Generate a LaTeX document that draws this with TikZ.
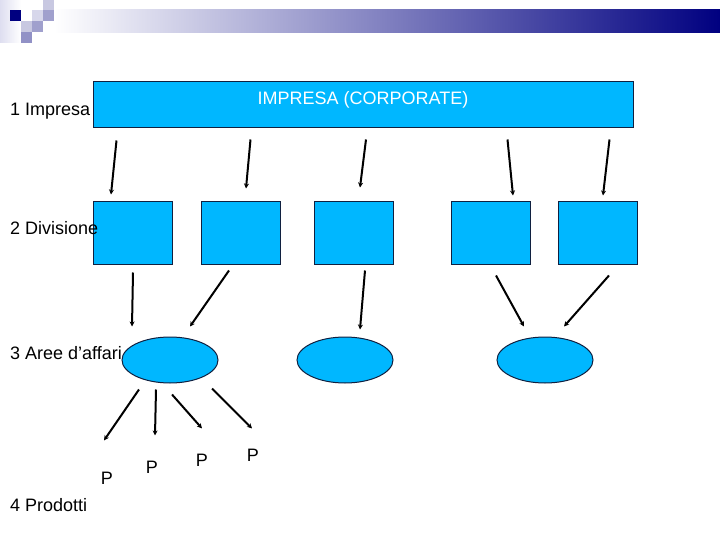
\documentclass[tikz,border=0pt]{standalone}
\usepackage{fontspec}
\setmainfont{Liberation Sans}
\usetikzlibrary{arrows.meta,shapes.geometric}
\definecolor{boxblue}{RGB}{0,183,255}
\definecolor{boxline}{RGB}{16,32,64}
\definecolor{slidenavy}{RGB}{0,0,128}
\definecolor{barmid}{RGB}{172,172,198}
\definecolor{stripe}{RGB}{222,222,240}
\definecolor{sqlight}{RGB}{200,200,225}
\definecolor{sqpale}{RGB}{215,215,235}
\definecolor{sqmid}{RGB}{160,160,205}
\definecolor{sqdeep}{RGB}{145,145,198}
\begin{document}
\begin{tikzpicture}[x=1pt, y=-1pt,
        txt/.style={font=\fontsize{18}{21}\selectfont, inner sep=0pt},
        level/.style={txt, anchor=base west},
        corporate/.style={draw=boxline, fill=boxblue, line width=1pt, minimum width=540pt, minimum height=46pt, inner sep=0pt},
        division/.style={draw=boxline, fill=boxblue, line width=1pt, minimum width=79pt, minimum height=62pt, inner sep=0pt},
        area/.style={ellipse, draw=boxline, fill=boxblue, line width=1pt, minimum width=96pt, minimum height=46pt, inner sep=0pt},
        prod/.style={txt, anchor=base},
        arrow/.style={-{Stealth[length=5pt,width=5pt]}, line width=2pt}
        ]
        \useasboundingbox (0,0) rectangle (720,540);
        % slide decoration
        \shade[left color=white, middle color=barmid, right color=slidenavy] (54,10) rectangle (720,33);
        \shade[left color=stripe, right color=white] (0,0) rectangle (21,43);
        \fill[slidenavy] (10,10) rectangle (21,21);
        \fill[sqlight] (43,0) rectangle (54,10);
        \fill[sqpale] (32,10) rectangle (43,21);
        \fill[sqmid] (43,10) rectangle (54,21);
        \fill[sqlight] (21,21) rectangle (32,32);
        \fill[sqmid] (32,21) rectangle (43,32);
        \fill[sqdeep] (21,32) rectangle (32,43);

        \node[corporate, label={[txt, text=white, anchor=base, yshift=-23pt]north:IMPRESA (CORPORATE)}] (corp) at (363,105) {};

        \node[division] (div1) at (132.5,233) {};
        \node[division] (div2) at (240.5,233) {};
        \node[division] (div3) at (354,233) {};
        \node[division] (div4) at (490.5,233) {};
        \node[division] (div5) at (597.5,233) {};

        \node[area] (area1) at (170,360) {};
        \node[area] (area2) at (345,360) {};
        \node[area] (area3) at (545,360) {};

        \node[prod] (p1) at (107,484) {P};
        \node[prod] (p2) at (152,473) {P};
        \node[prod] (p3) at (202,466) {P};
        \node[prod] (p4) at (253,461) {P};

        \node[level] (lev1) at (10,116) {1 Impresa};
        \node[level] (lev2) at (10,234.5) {2 Divisione};
        \node[level] (lev3) at (10,359) {3 Aree d’affari};
        \node[level] (lev4) at (10,511) {4 Prodotti};

        % impresa -> divisioni
        \draw[arrow] ([shift={(24,12)}]corp.south west) -- ([shift={(-21.5,-7)}]div1.north);
        \draw[arrow] ([shift={(158,11)}]corp.south west) -- ([shift={(5.5,-13)}]div2.north);
        \draw[arrow] ([shift={(3,11)}]corp.south) -- ([shift={(6,-14)}]div3.north);
        \draw[arrow] ([shift={(-126,11)}]corp.south east) -- ([shift={(22.5,-6)}]div4.north);
        \draw[arrow] ([shift={(-24,11)}]corp.south east) -- ([shift={(5.5,-6)}]div5.north);

        % divisioni -> aree
        \draw[arrow] ([shift={(0.5,8)}]div1.south) -- ([shift={(-38,-10)}]area1.north);
        \draw[arrow] ([shift={(-11.5,6)}]div2.south) -- ([shift={(20,-10)}]area1.north);
        \draw[arrow] ([shift={(11,6)}]div3.south) -- ([shift={(15,-7)}]area2.north);
        \draw[arrow] ([shift={(5.5,11)}]div4.south) -- ([shift={(-21,-10)}]area3.north);
        \draw[arrow] ([shift={(11.5,11)}]div5.south) -- ([shift={(19,-10)}]area3.north);

        % aree -> prodotti
        \draw[arrow] ([shift={(-31,6)}]area1.south) -- ([shift={(-3,-31)}]p1.north);
        \draw[arrow] ([shift={(-14,6)}]area1.south) -- ([shift={(3,-25)}]p2.north);
        \draw[arrow] ([shift={(2,11)}]area1.south) -- ([shift={(0,-25)}]p3.north);
        \draw[arrow] ([shift={(42,5)}]area1.south) -- ([shift={(-1,-20)}]p4.north);
    \end{tikzpicture}
\end{document}
